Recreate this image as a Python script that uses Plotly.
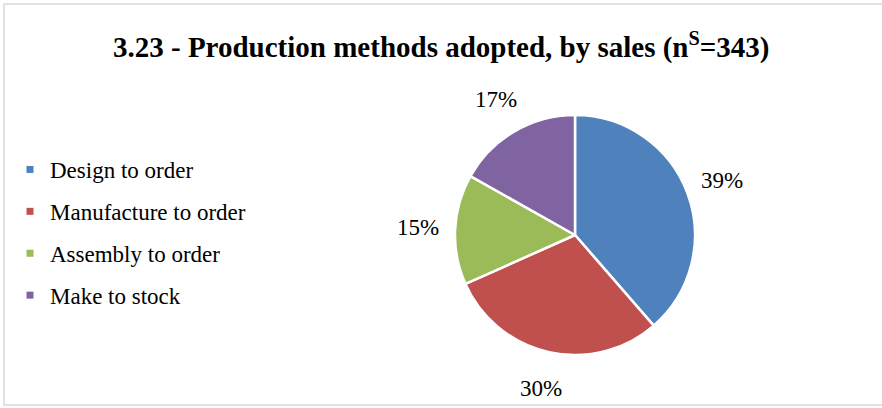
import math
import plotly.graph_objects as go

# Production methods and their share of sales (%)
methods = ["Design to order", "Manufacture to order", "Assembly to order", "Make to stock"]
shares = [39, 30, 15, 17]
colors = ["#4F81BD", "#C0504D", "#9BBB59", "#8064A2"]

W, H = 882, 408
FONT = "Liberation Serif"

# Pie geometry in pixels (figure has no margins, so paper == pixels / size)
cx, cy, r = 575, 235, 120
label_dist = 157


def px(x):
    return x / W


def py(y):
    return 1 - y / H


fig = go.Figure()

fig.add_trace(go.Pie(
    labels=methods,
    values=shares,
    marker=dict(colors=colors, line=dict(color="white", width=2.5)),
    sort=False,
    direction="clockwise",
    rotation=0,
    textinfo="none",
    hoverinfo="label+value",
    showlegend=False,
    domain=dict(x=[px(cx - r), px(cx + r)], y=[py(cy + r), py(cy - r)]),
))

# Legend entries with small square swatches
for name, col in zip(methods, colors):
    fig.add_trace(go.Scatter(
        x=[None], y=[None], mode="markers", name=name, legendgroup=name,
        marker=dict(symbol="square", size=7, color=col),
    ))

# Percentage labels placed radially outside each slice
total = sum(shares)
start = 0.0
for v in shares:
    mid = (start + v / 2) / total * 2 * math.pi
    start += v
    lx = cx + label_dist * math.sin(mid)
    ly = cy - label_dist * math.cos(mid)
    fig.add_annotation(
        x=px(lx), y=py(ly), xref="paper", yref="paper",
        text=f"{v}%", showarrow=False,
        font=dict(family=FONT, size=23, color="#000000"),
        xanchor="center", yanchor="middle",
    )

# Title
fig.add_annotation(
    x=0.5, y=py(45), xref="paper", yref="paper",
    text="<b>3.23 - Production methods adopted, by sales (n<sup>S</sup>=343)</b>",
    showarrow=False, font=dict(family=FONT, size=29, color="#000000"),
    xanchor="center", yanchor="middle",
)

# Chart frame
fig.add_shape(
    type="rect", xref="paper", yref="paper",
    x0=px(4), x1=px(W + 2), y0=py(405), y1=py(4),
    line=dict(color="#D9D9D9", width=1.5), fillcolor="rgba(0,0,0,0)",
)

fig.update_layout(
    width=W, height=H,
    margin=dict(l=0, r=0, t=0, b=0),
    paper_bgcolor="white", plot_bgcolor="white",
    font=dict(family=FONT),
    xaxis=dict(visible=False), yaxis=dict(visible=False),
    showlegend=True,
    legend=dict(
        x=px(10), y=py(148), xanchor="left", yanchor="top",
        font=dict(family=FONT, size=23, color="#000000"),
        tracegroupgap=9, itemwidth=30,
        bgcolor="rgba(0,0,0,0)",
    ),
)

fig.write_html("out.html")
